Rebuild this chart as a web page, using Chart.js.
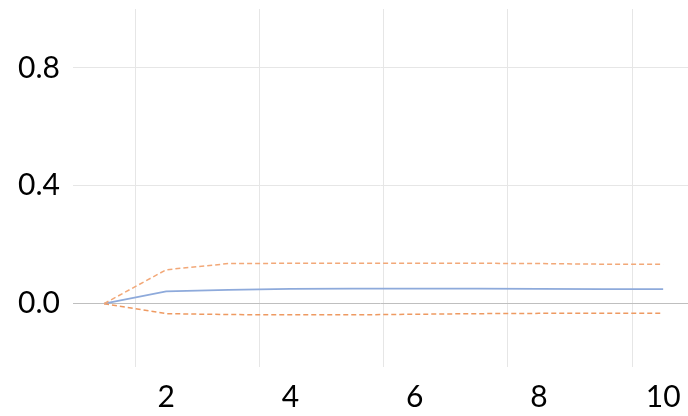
<!DOCTYPE html>
<html>
<head>
<meta charset="utf-8">
<script src="https://cdn.jsdelivr.net/npm/chart.js@4"></script>
<style>
  html, body { margin: 0; padding: 0; background: #fff; overflow: hidden; }
  #wrap { width: 688px; height: 416px; position: relative; }
</style>
</head>
<body>
<div id="wrap"><canvas id="c"></canvas></div>
<script>
const periods = [1, 2, 3, 4, 5, 6, 7, 8, 9, 10];
const response = [0, 0.042, 0.047, 0.050, 0.051, 0.051, 0.051, 0.050, 0.049, 0.049];
const upperBand = [0, 0.115, 0.136, 0.137, 0.137, 0.137, 0.137, 0.136, 0.134, 0.134];
const lowerBand = [0, -0.034, -0.037, -0.038, -0.038, -0.036, -0.034, -0.033, -0.033, -0.033];
const xTickLabels = [2, 4, 6, 8, 10];
const yTickLabels = [0.0, 0.4, 0.8];

const toPts = arr => periods.map((p, i) => ({ x: p, y: arr[i] }));
const FONT = "Lato, 'Open Sans', 'Liberation Sans', sans-serif";

new Chart(document.getElementById('c'), {
  type: 'line',
  data: {
    datasets: [
      { data: toPts(upperBand), borderColor: '#f2a878', borderWidth: 1.5, borderDash: [5, 3], pointRadius: 0, tension: 0, fill: false },
      { data: toPts(lowerBand), borderColor: '#ee9a62', borderWidth: 1.5, borderDash: [5, 3], pointRadius: 0, tension: 0, fill: false },
      { data: toPts(response), borderColor: '#8eaadb', borderWidth: 1.8, pointRadius: 0, tension: 0, fill: false }
    ]
  },
  options: {
    responsive: true,
    maintainAspectRatio: false,
    animation: false,
    layout: { padding: { left: 0, right: 0, top: 9, bottom: 0 } },
    plugins: { legend: { display: false }, tooltip: { enabled: false } },
    scales: {
      x: {
        type: 'linear',
        min: 0.5,
        max: 10.4,
        border: { display: false },
        afterBuildTicks: axis => {
          const t = [];
          xTickLabels.forEach(v => { t.push({ value: v - 0.5 }); t.push({ value: v }); });
          axis.ticks = t;
        },
        afterFit: s => { s.height = 49; s.paddingLeft = 0; s.paddingRight = 0; },
        grid: {
          drawTicks: false,
          lineWidth: 1,
          color: ctx => (ctx.tick && ctx.tick.value % 1 !== 0) ? '#e6e6e6' : 'rgba(0,0,0,0)'
        },
        ticks: {
          autoSkip: false,
          maxRotation: 0,
          padding: 12,
          color: '#000',
          font: { family: FONT, size: 30 },
          callback: v => (v % 1 === 0 ? String(v) : '')
        }
      },
      y: {
        type: 'linear',
        min: -0.215,
        max: 1.0,
        border: { display: false },
        afterBuildTicks: axis => { axis.ticks = yTickLabels.map(v => ({ value: v })); },
        afterFit: s => { s.width = 73; s.paddingTop = 0; s.paddingBottom = 0; },
        grid: {
          drawTicks: false,
          lineWidth: 1,
          color: ctx => (ctx.tick && ctx.tick.value === 0) ? '#bfbfbf' : '#e6e6e6'
        },
        ticks: {
          padding: 13,
          color: '#000',
          font: { family: FONT, size: 30 },
          callback: v => Number(v).toFixed(1)
        }
      }
    }
  }
});
</script>
</body>
</html>
